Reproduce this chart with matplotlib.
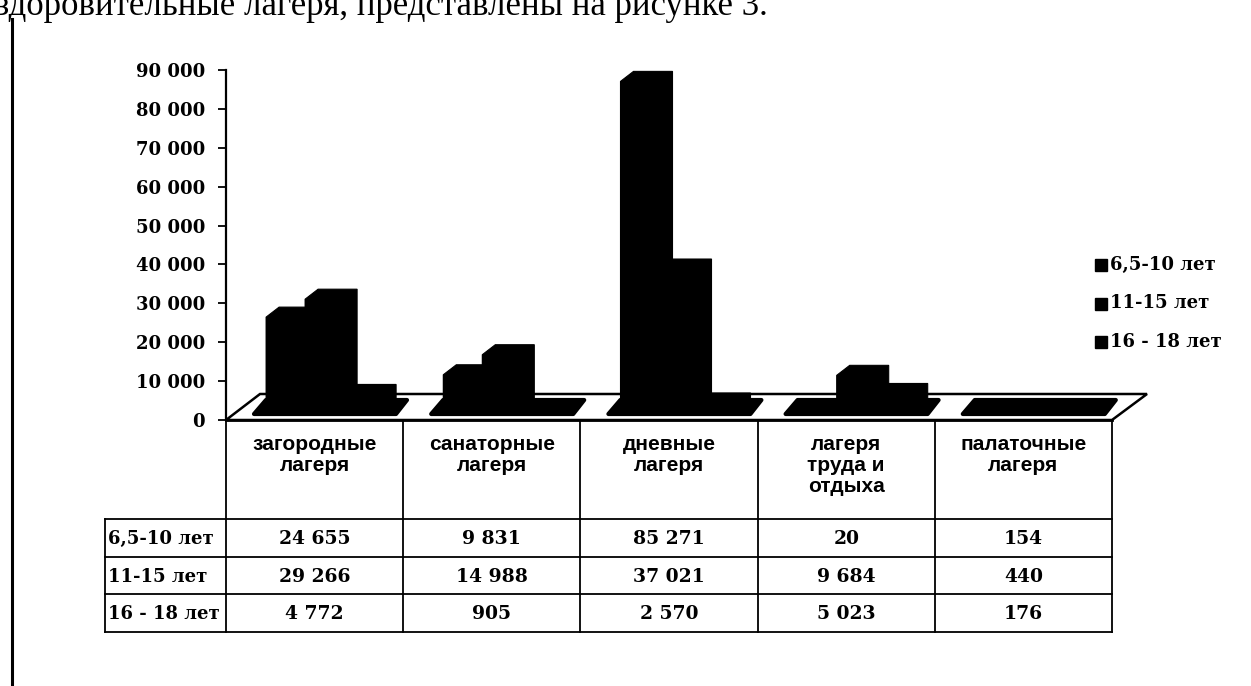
import matplotlib
matplotlib.use("Agg")
import matplotlib.pyplot as plt
from matplotlib.transforms import ScaledTranslation
from matplotlib.patches import Polygon, Rectangle

# ---------------- data ----------------
categories = ["загородные\nлагеря", "санаторные\nлагеря", "дневные\nлагеря",
              "лагеря\nтруда и\nотдыха", "палаточные\nлагеря"]
series_names = ["6,5-10 лет", "11-15 лет", "16 - 18 лет"]
age_6_10 = [24655, 9831, 85271, 20, 154]
age_11_15 = [29266, 14988, 37021, 9684, 440]
age_16_18 = [4772, 905, 2570, 5023, 176]
series_values = [age_6_10, age_11_15, age_16_18]
table_text = [["24 655", "9 831", "85 271", "20", "154"],
              ["29 266", "14 988", "37 021", "9 684", "440"],
              ["4 772", "905", "2 570", "5 023", "176"]]
y_ticks = [0, 10000, 20000, 30000, 40000, 50000, 60000, 70000, 80000, 90000]
y_tick_labels = ["0", "10 000", "20 000", "30 000", "40 000", "50 000",
                 "60 000", "70 000", "80 000", "90 000"]
header_text = "оздоровительные лагеря, представлены на рисунке 3."

# ---------------- figure ----------------
W, H, DPI = 1251, 686, 100
fig = plt.figure(figsize=(W / DPI, H / DPI), dpi=DPI)
fig.patch.set_facecolor("white")

DJS = ["DejaVu Serif"]
TIMES = ["Liberation Serif", "DejaVu Serif"]
SANS = ["Liberation Sans", "DejaVu Sans"]

def fx(px):
    return px / W

def fy(py):
    return 1 - py / H

ax_left, ax_right, ax_top, ax_bot = 226, 1112, 70, 420
ax = fig.add_axes([fx(ax_left), fy(ax_bot), fx(ax_right - ax_left), (ax_bot - ax_top) / H])
ax.set_xlim(-0.5, len(categories) - 0.5)
ax.set_ylim(0, 90000)
ax.patch.set_alpha(0)
for s in ["top", "right", "bottom"]:
    ax.spines[s].set_visible(False)
ax.spines["left"].set_linewidth(1.6)
ax.set_xticks([])
ax.set_yticks(y_ticks)
ax.set_yticklabels(y_tick_labels, family=DJS, fontsize=13, fontweight="bold")
ax.tick_params(axis="y", length=6, width=1.3, pad=9, colors="black")

# 3D-like bars
px_per_x = (ax_right - ax_left) / len(categories)
px_per_y = (ax_bot - ax_top) / 90000
front_off = ScaledTranslation(10 / DPI, 7 / DPI, fig.dpi_scale_trans)
tr = ax.transData + front_off
ddx = 13 / px_per_x
ddy = 10 / px_per_y
bw = 39 / px_per_x
for j, vals in enumerate(series_values):
    xs = [i + (j - 1) * bw for i in range(len(categories))]
    bars = ax.bar(xs, vals, width=bw, color="black", edgecolor="black",
                  linewidth=0, label=series_names[j], zorder=3)
    for b in bars:
        b.set_transform(tr)
    for x, v in zip(xs, vals):
        x0, x1 = x - bw / 2, x + bw / 2
        verts = [(x0, 0), (x0, v), (x0 + ddx, v + ddy), (x1 + ddx, v + ddy),
                 (x1 + ddx, ddy), (x1, 0)]
        ax.add_patch(Polygon(verts, closed=True, facecolor="black",
                             edgecolor="black", linewidth=0.8,
                             transform=tr, zorder=3 + j, clip_on=False))

# ---------------- overlay in pixel coordinates ----------------
ov = fig.add_axes([0, 0, 1, 1])
ov.set_xlim(0, W)
ov.set_ylim(H, 0)
ov.axis("off")
ov.patch.set_alpha(0)

# floor outline
floor = [(226, 420), (1112, 420), (1147, 394), (260, 394)]
ov.add_patch(Polygon(floor, closed=True, fill=False, edgecolor="black",
                     linewidth=1.8, zorder=1))
# shadows under each category
for i in range(len(categories)):
    L = 226 + px_per_x * i
    blob = [(L + 28, 414), (L + 170, 414), (L + 181, 400), (L + 40, 400)]
    ov.add_patch(Polygon(blob, closed=True, facecolor="black", edgecolor="black",
                         linewidth=3, joinstyle="round", zorder=2))

# table
col_edges = [226 + px_per_x * i for i in range(len(categories) + 1)]
row_lines = [519, 557, 594, 632]
tab_left = 105
lw = 1.3
for x in col_edges:
    ov.plot([x, x], [420, row_lines[-1]], color="black", lw=lw)
ov.plot([tab_left, tab_left], [row_lines[0], row_lines[-1]], color="black", lw=lw)
for y in row_lines:
    ov.plot([tab_left, 1112], [y, y], color="black", lw=lw)
ov.plot([226, 1112], [420, 420], color="black", lw=2)

for i, cat in enumerate(categories):
    cx = (col_edges[i] + col_edges[i + 1]) / 2
    ov.text(cx, 435, cat, ha="center", va="top", family=SANS, fontsize=15,
            fontweight="bold", linespacing=1.15, color="black")
    for r in range(3):
        cy = (row_lines[r] + row_lines[r + 1]) / 2
        ov.text(cx, cy + 1, table_text[r][i], ha="center", va="center",
                family=DJS, fontsize=13.5, fontweight="bold", color="black")
for r in range(3):
    cy = (row_lines[r] + row_lines[r + 1]) / 2
    ov.text(tab_left + 3, cy + 1, series_names[r], ha="left", va="center",
            family=DJS, fontsize=13, fontweight="bold", color="black")

# legend
for r, name in enumerate(series_names):
    y = 265 + 38.5 * r
    ov.add_patch(Rectangle((1095, y - 6), 12, 12, facecolor="black", edgecolor="black"))
    ov.text(1110, y, name, ha="left", va="center", family=DJS, fontsize=13,
            fontweight="bold", color="black")

# page elements
ov.plot([12, 12], [19, H], color="black", lw=2.2)
ov.text(768, 15, header_text, ha="right", va="baseline", family=TIMES,
        fontsize=25, color="black")

fig.savefig("out.png", dpi=DPI, facecolor="white")
